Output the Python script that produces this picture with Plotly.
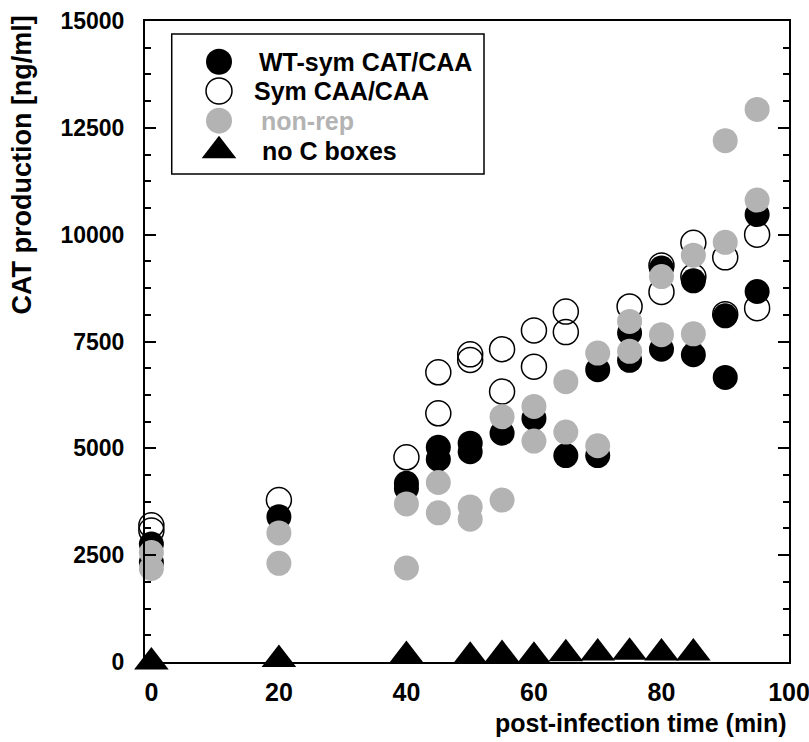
import plotly.graph_objects as go

# ---------------- data ----------------
wt_x = [0, 0, 20, 40, 40, 45, 45, 50, 50, 55, 60, 65, 70, 70, 75, 75, 80, 80, 85, 85, 90, 90, 95, 95]
wt_y = [2760, 2330, 3400, 4180, 4060, 5025, 4745, 5120, 4920, 5355, 5700, 4830, 6840, 4830,
        7700, 7060, 9220, 7320, 8920, 7190, 8100, 6660, 10470, 8670]

sym_x = [0, 0, 20, 40, 45, 45, 50, 50, 55, 55, 60, 60, 65, 65, 75, 80, 80, 85, 85, 90, 90, 95, 95]
sym_y = [3200, 3080, 3790, 4790, 6780, 5820, 7200, 7070, 7320, 6330, 7760, 6910, 8200, 7720,
         8320, 9280, 8660, 9810, 9020, 9470, 8140, 10000, 8280]

nonrep_x = [0, 0, 20, 20, 40, 40, 45, 45, 50, 50, 55, 55, 60, 60, 65, 65, 70, 70, 75, 75,
            80, 80, 85, 85, 90, 90, 95, 95]
nonrep_y = [2560, 2190, 3020, 2310, 3700, 2200, 4200, 3490, 3630, 3340, 5740, 3790, 5980, 5170,
            6560, 5380, 7230, 5060, 7970, 7270, 9020, 7660, 9520, 7680, 12200, 9820, 12930, 10810]

noc_x = [0, 20, 40, 50, 55, 60, 65, 70, 75, 80, 85]
noc_y = [0, 57, 150, 136, 173, 136, 192, 208, 227, 211, 211]

series_names = ["WT-sym CAT/CAA", "Sym CAA/CAA", "non-rep", "no C boxes"]
x_ticks = [0, 20, 40, 60, 80, 100]
y_ticks = [0, 2500, 5000, 7500, 10000, 12500, 15000]
y_tick_labels = ["0", "2500", "5000", "7500", "10000", "12500", "15000"]
x_title = "post-infection time (min)"
y_title = "CAT production [ng/ml]"

# ---------------- styles ----------------
GRAY = "#b3b3b3"
FONT = "Liberation Sans, Arial, sans-serif"
CIRC = 25
TRI = 30

fig = go.Figure()

# draw order: open circles, black, gray, triangles
fig.add_trace(go.Scatter(x=sym_x, y=sym_y, mode="markers", name=series_names[1],
                         marker=dict(symbol="circle-open", size=CIRC, color="black",
                                     line=dict(width=1.5, color="black")),
                         showlegend=False, cliponaxis=False))
fig.add_trace(go.Scatter(x=wt_x, y=wt_y, mode="markers", name=series_names[0],
                         marker=dict(symbol="circle", size=CIRC, color="black",
                                     line=dict(width=0)),
                         showlegend=False, cliponaxis=False))
fig.add_trace(go.Scatter(x=nonrep_x, y=nonrep_y, mode="markers", name=series_names[2],
                         marker=dict(symbol="circle", size=CIRC, color=GRAY,
                                     line=dict(width=0)),
                         showlegend=False, cliponaxis=False))
fig.add_trace(go.Scatter(x=noc_x, y=noc_y, mode="markers", name=series_names[3],
                         marker=dict(symbol="triangle-up", size=TRI, color="black",
                                     line=dict(width=0)),
                         showlegend=False, cliponaxis=False))

# ---------------- manual legend (overlay axes in paper-like units) ----------------
leg_gx = 0.1149
leg_ys = [0.9365, 0.8908, 0.8445, 0.7977]
leg_tx = [0.1739, 0.1662, 0.1770, 0.1786]
leg_styles = [
    dict(symbol="circle", size=CIRC + 1, color="black", line=dict(width=0)),
    dict(symbol="circle-open", size=CIRC + 1, color="black", line=dict(width=1.5, color="black")),
    dict(symbol="circle", size=CIRC + 1, color=GRAY, line=dict(width=0)),
    dict(symbol="triangle-up", size=TRI, color="black", line=dict(width=0)),
]
leg_text_colors = ["black", "black", GRAY, "black"]
for name, yy, st in zip(series_names, leg_ys, leg_styles):
    fig.add_trace(go.Scatter(x=[leg_gx], y=[yy], mode="markers", marker=st,
                             xaxis="x2", yaxis="y2", showlegend=False, hoverinfo="skip",
                             cliponaxis=False))
for name, xx, yy, col in zip(series_names, leg_tx, leg_ys, leg_text_colors):
    fig.add_annotation(x=xx, y=yy, xref="paper", yref="paper", text=name,
                       showarrow=False, xanchor="left", yanchor="middle",
                       font=dict(family=FONT, size=25, color=col, weight="bold"))

fig.add_shape(type="rect", xref="paper", yref="paper", x0=0.0415, x1=0.5264,
              y0=0.7613, y1=0.9797, line=dict(color="black", width=1.5),
              fillcolor="rgba(0,0,0,0)")

# ---------------- axis titles ----------------
fig.add_annotation(x=1.0, y=-0.095, xref="paper", yref="paper", text=x_title,
                   showarrow=False, xanchor="right", yanchor="middle",
                   font=dict(family=FONT, size=25, color="black", weight="bold"))
fig.add_annotation(x=-0.191, y=0.776, xref="paper", yref="paper", text=y_title,
                   showarrow=False, xanchor="center", yanchor="middle", textangle=-90,
                   font=dict(family=FONT, size=27, color="black", weight="bold"))

fig.update_layout(
    width=809, height=742,
    margin=dict(l=145, r=20, t=21, b=80, pad=0, autoexpand=False),
    paper_bgcolor="white", plot_bgcolor="white",
    showlegend=False,
    xaxis=dict(range=[-1, 100], tickvals=x_ticks, ticks="", showgrid=False, zeroline=False,
               showline=True, linecolor="black", linewidth=2, mirror=True,
               tickfont=dict(family=FONT, size=25, color="black", weight="bold"),
               ticklabelstandoff=7, ticklabeloverflow="allow", automargin=False),
    yaxis=dict(range=[0, 15000], tickvals=y_ticks, ticktext=y_tick_labels,
               ticks="inside", ticklen=11, tickwidth=2, tickcolor="black",
               showgrid=False, zeroline=False,
               showline=True, linecolor="black", linewidth=2, mirror="ticks",
               minor=dict(dtick=625, ticks="inside", ticklen=6, tickwidth=1.5,
                          tickcolor="black", showgrid=False),
               tickfont=dict(family=FONT, size=23, color="black", weight="bold"),
               ticklabelstandoff=14, ticklabeloverflow="allow", automargin=False),
    xaxis2=dict(overlaying="x", range=[0, 1], visible=False),
    yaxis2=dict(overlaying="y", range=[0, 1], visible=False),
)

fig.write_html("out.html")
